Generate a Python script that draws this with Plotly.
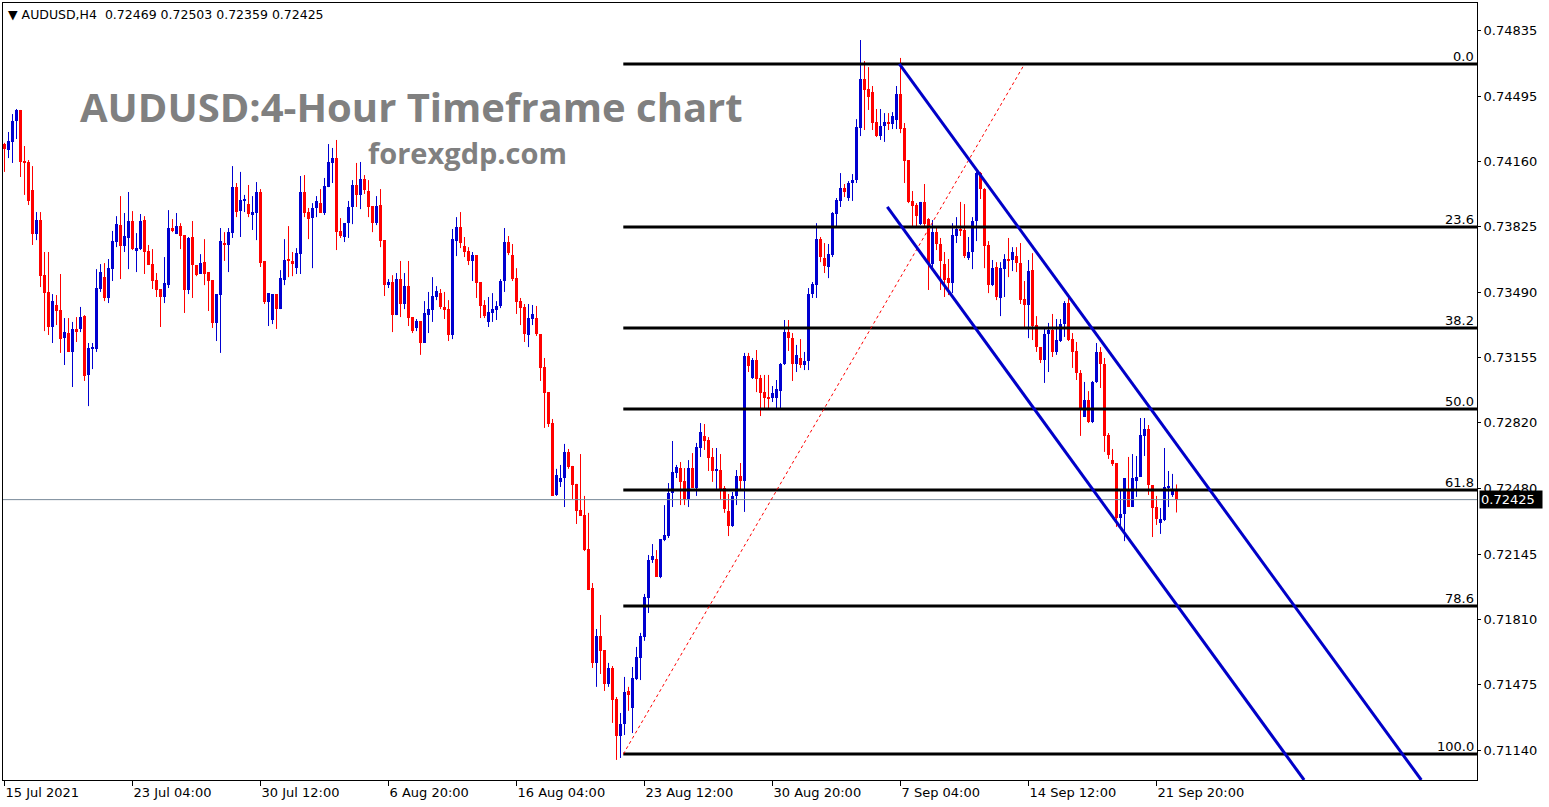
import plotly.graph_objects as go

# ---------------- data ----------------
open_ = [
0.74250,0.74219,0.74261,0.74368,0.74425,0.74163,0.74158,0.74014,0.73788,0.73860,
0.73577,0.73491,0.73311,0.73424,0.73398,0.73254,0.73280,0.73183,0.73300,0.73300,
0.73367,0.73065,0.73203,0.73198,0.73506,0.73567,0.73460,0.73608,0.73747,0.73834,
0.73726,0.73768,0.73855,0.73706,0.73711,0.73860,0.73701,0.73634,0.73552,0.73506,
0.73465,0.73526,0.73819,0.73788,0.73829,0.73783,0.73501,0.73773,0.73629,0.73583,
0.73644,0.73593,0.73552,0.73331,0.73475,0.73742,0.73732,0.73793,0.74029,0.73906,
0.73958,0.73942,0.73891,0.73896,0.74004,0.73650,0.73439,0.73347,0.73480,0.73403,
0.73552,0.73655,0.73650,0.73613,0.73685,0.74004,0.73901,0.73870,0.73922,0.73947,
0.73896,0.74029,0.74153,0.74178,0.73804,0.73773,0.73844,0.73927,0.74040,0.73989,
0.74070,0.74009,0.73932,0.73844,0.73937,0.73757,0.73526,0.73542,0.73372,0.73557,
0.73429,0.73521,0.73362,0.73306,0.73342,0.73229,0.73372,0.73398,0.73465,0.73485,
0.73414,0.73403,0.73270,0.73752,0.73824,0.73726,0.73701,0.73650,0.73680,0.73542,
0.73424,0.73337,0.73383,0.73398,0.73419,0.73547,0.73747,0.73680,0.73562,0.73444,
0.73414,0.73270,0.73352,0.73357,0.73275,0.73106,0.72977,0.72818,0.72449,0.72516,
0.72536,0.72670,0.72598,0.72506,0.72372,0.72346,0.72171,0.71972,0.71587,0.71725,
0.71653,0.71479,0.71561,0.71402,0.71212,0.71274,0.71443,0.71356,0.71505,0.71612,
0.71720,0.71920,0.72115,0.72120,0.72028,0.72218,0.72238,0.72459,0.72562,0.72587,
0.72521,0.72428,0.72587,0.72485,0.72690,0.72752,0.72731,0.72644,0.72572,0.72577,
0.72485,0.72367,0.72290,0.72444,0.72546,0.72521,0.73162,0.73049,0.73141,0.73049,
0.72977,0.72951,0.72946,0.72946,0.72982,0.73121,0.73285,0.73254,0.73121,0.73152,
0.73116,0.73136,0.73480,0.73526,0.73762,0.73665,0.73619,0.73680,0.73891,0.73958,
0.74024,0.73973,0.74050,0.74065,0.74332,0.74583,0.74532,0.74517,0.74363,0.74291,
0.74342,0.74363,0.74353,0.74373,0.74507,0.74332,0.74168,0.73958,0.73937,0.73839,
0.73953,0.73865,0.73634,0.73798,0.73737,0.73634,0.73562,0.73536,0.73778,0.73814,
0.73809,0.73665,0.73696,0.73855,0.74101,0.74019,0.73732,0.73526,0.73619,0.73460,
0.73608,0.73660,0.73655,0.73675,0.73639,0.73455,0.73424,0.73603,0.73321,0.73208,
0.73141,0.73275,0.73295,0.73183,0.73239,0.73326,0.73434,0.73249,0.73188,0.73075,
0.72849,0.72936,0.72823,0.73029,0.73183,0.73121,0.72757,0.72628,0.72613,0.72331,
0.72351,0.72474,0.72387,0.72521,0.72541,0.72752,0.72788,0.72500,0.72387,0.72305,
0.72320,0.72485,0.72450,0.72469]

high = [
0.74256,0.74312,0.74404,0.74430,0.74425,0.74240,0.74168,0.74137,0.73901,0.73901,
0.73696,0.73696,0.73480,0.73475,0.73583,0.73357,0.73357,0.73337,0.73362,0.73414,
0.73372,0.73229,0.73229,0.73608,0.73634,0.73639,0.73660,0.73804,0.73880,0.73983,
0.73896,0.74004,0.73906,0.73793,0.73891,0.73880,0.73732,0.73711,0.73588,0.73506,
0.73670,0.73911,0.73865,0.73896,0.73844,0.73783,0.73773,0.73855,0.73629,0.73685,
0.73762,0.73593,0.73552,0.73480,0.73819,0.73798,0.73819,0.74137,0.74050,0.74107,
0.73989,0.74040,0.73983,0.74055,0.74019,0.73650,0.73485,0.73480,0.73480,0.73603,
0.73762,0.73829,0.73696,0.73716,0.74086,0.74091,0.73922,0.73947,0.73983,0.74019,
0.74076,0.74250,0.74230,0.74271,0.73870,0.73844,0.73958,0.74065,0.74153,0.74158,
0.74091,0.74065,0.73932,0.73983,0.74019,0.73757,0.73557,0.73577,0.73588,0.73650,
0.73588,0.73650,0.73362,0.73352,0.73342,0.73444,0.73491,0.73567,0.73521,0.73506,
0.73491,0.73449,0.73814,0.73875,0.73901,0.73773,0.73721,0.73696,0.73680,0.73542,
0.73449,0.73465,0.73485,0.73444,0.73557,0.73819,0.73778,0.73737,0.73613,0.73460,
0.73429,0.73429,0.73424,0.73419,0.73275,0.73152,0.72977,0.72839,0.72583,0.72603,
0.72711,0.72685,0.72598,0.72506,0.72659,0.72444,0.72357,0.71997,0.71761,0.71833,
0.71653,0.71587,0.71571,0.71412,0.71330,0.71515,0.71464,0.71566,0.71669,0.71741,
0.71941,0.72141,0.72197,0.72166,0.72223,0.72397,0.72510,0.72726,0.72603,0.72618,
0.72587,0.72628,0.72664,0.72716,0.72818,0.72813,0.72746,0.72690,0.72690,0.72659,
0.72495,0.72454,0.72464,0.72577,0.72613,0.73178,0.73178,0.73152,0.73193,0.73065,
0.73065,0.73065,0.73008,0.73039,0.73126,0.73347,0.73347,0.73280,0.73219,0.73249,
0.73183,0.73511,0.73542,0.73844,0.73773,0.73742,0.73737,0.73901,0.73973,0.74101,
0.74045,0.74060,0.74096,0.74378,0.74784,0.74676,0.74645,0.74548,0.74430,0.74430,
0.74409,0.74409,0.74414,0.74548,0.74692,0.74358,0.74168,0.74009,0.73947,0.73953,
0.74045,0.73870,0.73860,0.73819,0.73768,0.73696,0.73660,0.73844,0.73875,0.73953,
0.73942,0.73773,0.73875,0.74107,0.74107,0.74024,0.73752,0.73655,0.73644,0.73644,
0.73685,0.73768,0.73721,0.73721,0.73742,0.73547,0.73655,0.73690,0.73367,0.73208,
0.73311,0.73332,0.73378,0.73352,0.73352,0.73444,0.73465,0.73280,0.73234,0.73090,
0.73029,0.72982,0.73034,0.73229,0.73208,0.73152,0.72767,0.72685,0.72613,0.72474,
0.72536,0.72644,0.72659,0.72649,0.72844,0.72844,0.72808,0.72500,0.72444,0.72382,
0.72690,0.72572,0.72557,0.72503]

low = [
0.74107,0.74178,0.74153,0.74276,0.74081,0.73989,0.73937,0.73732,0.73757,0.73516,
0.73290,0.73270,0.73229,0.73321,0.73178,0.73116,0.73183,0.73003,0.73234,0.73285,
0.73034,0.72905,0.73095,0.73183,0.73491,0.73444,0.73434,0.73547,0.73721,0.73557,
0.73696,0.73608,0.73706,0.73593,0.73706,0.73583,0.73629,0.73506,0.73465,0.73311,
0.73434,0.73511,0.73798,0.73788,0.73711,0.73383,0.73480,0.73460,0.73572,0.73583,
0.73526,0.73393,0.73306,0.73239,0.73178,0.73650,0.73593,0.73768,0.73875,0.73773,
0.73901,0.73875,0.73809,0.73757,0.73619,0.73429,0.73316,0.73326,0.73301,0.73403,
0.73526,0.73567,0.73572,0.73583,0.73583,0.73875,0.73762,0.73613,0.73875,0.73896,
0.73886,0.74029,0.74050,0.73706,0.73768,0.73747,0.73768,0.73839,0.73927,0.73916,
0.73994,0.73875,0.73798,0.73834,0.73721,0.73470,0.73511,0.73285,0.73372,0.73362,
0.73403,0.73316,0.73280,0.73290,0.73168,0.73229,0.73280,0.73337,0.73449,0.73403,
0.73352,0.73239,0.73249,0.73675,0.73716,0.73670,0.73629,0.73547,0.73460,0.73357,
0.73357,0.73311,0.73337,0.73347,0.73408,0.73491,0.73680,0.73547,0.73378,0.73321,
0.73234,0.73208,0.73321,0.73265,0.73034,0.72793,0.72798,0.72444,0.72444,0.72490,
0.72387,0.72583,0.72428,0.72300,0.72341,0.72161,0.71961,0.71561,0.71464,0.71530,
0.71443,0.71464,0.71279,0.71089,0.71099,0.71217,0.71341,0.71227,0.71499,0.71499,
0.71700,0.71843,0.72100,0.72028,0.72022,0.72212,0.72228,0.72387,0.72536,0.72397,
0.72397,0.72387,0.72485,0.72444,0.72644,0.72680,0.72572,0.72516,0.72480,0.72423,
0.72357,0.72238,0.72285,0.72397,0.72469,0.72362,0.73080,0.73044,0.72977,0.72854,
0.72895,0.72895,0.72926,0.72895,0.72895,0.73116,0.73188,0.73034,0.73080,0.73101,
0.73090,0.73090,0.73460,0.73460,0.73644,0.73588,0.73562,0.73670,0.73829,0.73927,
0.73978,0.73958,0.73958,0.74050,0.74291,0.74322,0.74425,0.74322,0.74286,0.74271,
0.74261,0.74322,0.74327,0.74327,0.74306,0.74050,0.73947,0.73829,0.73829,0.73834,
0.73824,0.73501,0.73619,0.73706,0.73501,0.73465,0.73475,0.73485,0.73742,0.73778,
0.73665,0.73655,0.73608,0.73752,0.73968,0.73613,0.73485,0.73521,0.73449,0.73367,
0.73465,0.73567,0.73598,0.73593,0.73429,0.73311,0.73254,0.73244,0.73183,0.73126,
0.73024,0.73080,0.73157,0.73168,0.73234,0.73260,0.73239,0.73101,0.73039,0.72752,
0.72849,0.72818,0.72818,0.73024,0.72998,0.72670,0.72634,0.72598,0.72285,0.72285,
0.72212,0.72387,0.72387,0.72439,0.72541,0.72649,0.72449,0.72233,0.72295,0.72249,
0.72315,0.72387,0.72439,0.72359]

close = [
0.74225,0.74266,0.74368,0.74425,0.74158,0.74153,0.73958,0.73788,0.73860,0.73572,
0.73486,0.73311,0.73444,0.73393,0.73249,0.73285,0.73183,0.73300,0.73290,0.73362,
0.73059,0.73203,0.73208,0.73511,0.73593,0.73460,0.73613,0.73752,0.73839,0.73726,
0.73778,0.73855,0.73711,0.73716,0.73855,0.73696,0.73629,0.73547,0.73501,0.73465,
0.73536,0.73819,0.73804,0.73829,0.73778,0.73501,0.73768,0.73629,0.73577,0.73639,
0.73583,0.73547,0.73331,0.73480,0.73752,0.73732,0.73798,0.74029,0.73901,0.73963,
0.73963,0.73891,0.73901,0.74004,0.73639,0.73439,0.73485,0.73480,0.73403,0.73562,
0.73655,0.73650,0.73634,0.73690,0.74004,0.73896,0.73865,0.73922,0.73958,0.73896,
0.74035,0.74158,0.74178,0.73798,0.73778,0.73844,0.73927,0.74040,0.73989,0.74070,
0.74014,0.73927,0.73844,0.73932,0.73752,0.73526,0.73542,0.73372,0.73557,0.73429,
0.73521,0.73357,0.73290,0.73342,0.73229,0.73383,0.73403,0.73470,0.73496,0.73414,
0.73398,0.73270,0.73762,0.73824,0.73742,0.73696,0.73650,0.73680,0.73536,0.73419,
0.73367,0.73388,0.73403,0.73419,0.73547,0.73747,0.73690,0.73557,0.73439,0.73408,
0.73275,0.73357,0.73378,0.73275,0.73101,0.72972,0.72813,0.72444,0.72552,0.72536,
0.72670,0.72593,0.72500,0.72367,0.72341,0.72166,0.71961,0.71587,0.71725,0.71648,
0.71479,0.71561,0.71397,0.71212,0.71274,0.71438,0.71423,0.71510,0.71617,0.71725,
0.71925,0.72115,0.72135,0.72028,0.72223,0.72243,0.72459,0.72567,0.72593,0.72516,
0.72428,0.72587,0.72485,0.72695,0.72772,0.72726,0.72639,0.72572,0.72577,0.72480,
0.72377,0.72290,0.72444,0.72546,0.72521,0.73162,0.73111,0.73141,0.73044,0.72972,
0.72946,0.72946,0.72972,0.72993,0.73121,0.73285,0.73254,0.73121,0.73167,0.73116,
0.73136,0.73480,0.73532,0.73762,0.73670,0.73624,0.73685,0.73896,0.73963,0.74024,
0.74004,0.74050,0.74065,0.74337,0.74583,0.74527,0.74491,0.74358,0.74291,0.74342,
0.74363,0.74353,0.74394,0.74507,0.74327,0.74163,0.73953,0.73932,0.73880,0.73953,
0.73839,0.73634,0.73798,0.73737,0.73650,0.73552,0.73536,0.73783,0.73814,0.73804,
0.73675,0.73696,0.73855,0.74101,0.74019,0.73726,0.73526,0.73613,0.73465,0.73613,
0.73660,0.73650,0.73696,0.73639,0.73449,0.73424,0.73598,0.73316,0.73208,0.73141,
0.73275,0.73295,0.73183,0.73244,0.73326,0.73434,0.73244,0.73183,0.73075,0.72890,
0.72936,0.72823,0.73029,0.73183,0.73121,0.72752,0.72654,0.72608,0.72331,0.72351,
0.72536,0.72387,0.72536,0.72541,0.72757,0.72788,0.72500,0.72382,0.72326,0.72326,
0.72490,0.72490,0.72469,0.72425]

date_tick_bars = [0, 32, 64, 96, 128, 160, 192, 224, 256, 288]
date_tick_labels = ["15 Jul 2021", "23 Jul 04:00", "30 Jul 12:00", "6 Aug 20:00",
                    "16 Aug 04:00", "23 Aug 12:00", "30 Aug 20:00", "7 Sep 04:00",
                    "14 Sep 12:00", "21 Sep 20:00"]
price_ticks = [0.74835, 0.74495, 0.74160, 0.73825, 0.73490, 0.73155,
               0.72820, 0.72480, 0.72145, 0.71810, 0.71475, 0.71140]

fib_labels = ["0.0", "23.6", "38.2", "50.0", "61.8", "78.6", "100.0"]
fib_prices = [0.74661, 0.73824, 0.73306, 0.72890, 0.72474, 0.71879, 0.71119]
fib_start_bar = 154.7
fib_diag_bars = [154.7, 254.7]
fib_diag_prices = [0.71119, 0.74650]

chan_upper_bars = [223.7, 354.2]
chan_upper_prices = [0.74661, 0.70986]
chan_lower_bars = [220.7, 324.9]
chan_lower_prices = [0.73927, 0.70986]

last_price = 0.72425
header_text = "AUDUSD,H4\u00a0\u00a00.72469 0.72503 0.72359 0.72425"
big_title = "AUDUSD:4-Hour Timeframe chart"
site_text = "forexgdp.com"

# ---------------- layout constants ----------------
W, H = 1549, 807
ML, MR, MT, MB = 3, 72, 3, 27
PW, PH = W - ML - MR, H - MT - MB
X_MIN = -0.375
X_MAX = X_MIN + PW / 4.0
Y_MIN, Y_MAX = 0.70986, 0.74974

BULL = "#0000D0"
BEAR = "#FF0000"
FONT = "DejaVu Sans"


def px_to_paper_x(px):
    return (px - ML) / PW


def px_to_paper_y(py):
    return (MT + PH - py) / PH


n = len(close)
idx = list(range(n))
bull = [c >= o for o, c in zip(open_, close)]
min_body = (Y_MAX - Y_MIN) / PH  # one pixel
bases = [min(o, c) for o, c in zip(open_, close)]
heights = [max(abs(c - o), min_body) for o, c in zip(open_, close)]
colors = [BULL if b else BEAR for b in bull]

fig = go.Figure()

# wicks
for col, flag in ((BULL, True), (BEAR, False)):
    wx, wy = [], []
    for i in idx:
        if bull[i] == flag:
            wx += [i, i, None]
            wy += [low[i], high[i], None]
    fig.add_trace(go.Scatter(x=wx, y=wy, mode="lines",
                             line=dict(color=col, width=1),
                             hoverinfo="skip", showlegend=False))

# bodies
fig.add_trace(go.Bar(x=idx, y=heights, base=bases, width=0.75,
                     marker=dict(color=colors, line=dict(width=0)),
                     hoverinfo="skip", showlegend=False))

# current price line
fig.add_trace(go.Scatter(x=[X_MIN, X_MAX], y=[last_price, last_price], mode="lines",
                         line=dict(color="#778899", width=1),
                         hoverinfo="skip", showlegend=False))

# fibonacci levels
for p in fib_prices:
    fig.add_trace(go.Scatter(x=[fib_start_bar, X_MAX], y=[p, p], mode="lines",
                             line=dict(color="black", width=3),
                             hoverinfo="skip", showlegend=False))
fig.add_trace(go.Scatter(x=fib_diag_bars, y=fib_diag_prices, mode="lines",
                         line=dict(color="red", width=1, dash="dot"),
                         hoverinfo="skip", showlegend=False))

# channel
for bx, by in ((chan_upper_bars, chan_upper_prices), (chan_lower_bars, chan_lower_prices)):
    fig.add_trace(go.Scatter(x=bx, y=by, mode="lines",
                             line=dict(color="#0000C8", width=3),
                             hoverinfo="skip", showlegend=False))

ann = []
for lab, p in zip(fib_labels, fib_prices):
    ann.append(dict(x=X_MAX, y=p, xref="x", yref="y", text=lab, showarrow=False,
                    xanchor="right", yanchor="bottom", xshift=-1, yshift=-2,
                    font=dict(family=FONT, size=13, color="black")))

ann.append(dict(x=1, y=last_price, xref="paper", yref="y", text="0.72425",
                showarrow=False, xanchor="left", yanchor="middle", xshift=2,
                bgcolor="black", borderpad=1, width=60, align="left",
                font=dict(family=FONT, size=13, color="white")))

ann.append(dict(x=px_to_paper_x(6), y=px_to_paper_y(14), xref="paper", yref="paper",
                text="\u25bc\u00a0" + header_text, showarrow=False,
                xanchor="left", yanchor="middle",
                font=dict(family=FONT, size=12.5, color="black")))

ann.append(dict(x=px_to_paper_x(78), y=px_to_paper_y(106), xref="paper", yref="paper",
                text=big_title, showarrow=False, xanchor="left", yanchor="middle",
                font=dict(family="Open Sans", size=40, color="#808080", weight="bold")))

ann.append(dict(x=px_to_paper_x(366), y=px_to_paper_y(152), xref="paper", yref="paper",
                text=site_text, showarrow=False, xanchor="left", yanchor="middle",
                font=dict(family="Open Sans", size=29, color="#808080", weight="bold")))

fig.update_layout(
    width=W, height=H, autosize=False,
    margin=dict(l=ML, r=MR, t=MT, b=MB, pad=0),
    paper_bgcolor="white", plot_bgcolor="white",
    showlegend=False, bargap=0,
    annotations=ann,
    xaxis=dict(range=[X_MIN, X_MAX], showgrid=False, zeroline=False,
               showline=True, mirror=True, linecolor="black", linewidth=1,
               ticks="outside", ticklen=5, tickcolor="black", tickwidth=1,
               tickmode="array", tickvals=date_tick_bars, ticktext=date_tick_labels,
               ticklabelposition="outside right",
               tickfont=dict(family=FONT, size=13, color="black"),
               fixedrange=True),
    yaxis=dict(range=[Y_MIN, Y_MAX], side="right", showgrid=False, zeroline=False,
               showline=True, mirror=True, linecolor="black", linewidth=1,
               ticks="outside", ticklen=3, tickcolor="black", tickwidth=1,
               tickmode="array", tickvals=price_ticks,
               ticktext=[f"{v:.5f}" for v in price_ticks],
               tickfont=dict(family=FONT, size=13, color="black"),
               fixedrange=True),
)

fig.write_html("out.html", config={"displayModeBar": False},
               post_script="document.body.style.margin='0';document.body.style.overflow='hidden';")
